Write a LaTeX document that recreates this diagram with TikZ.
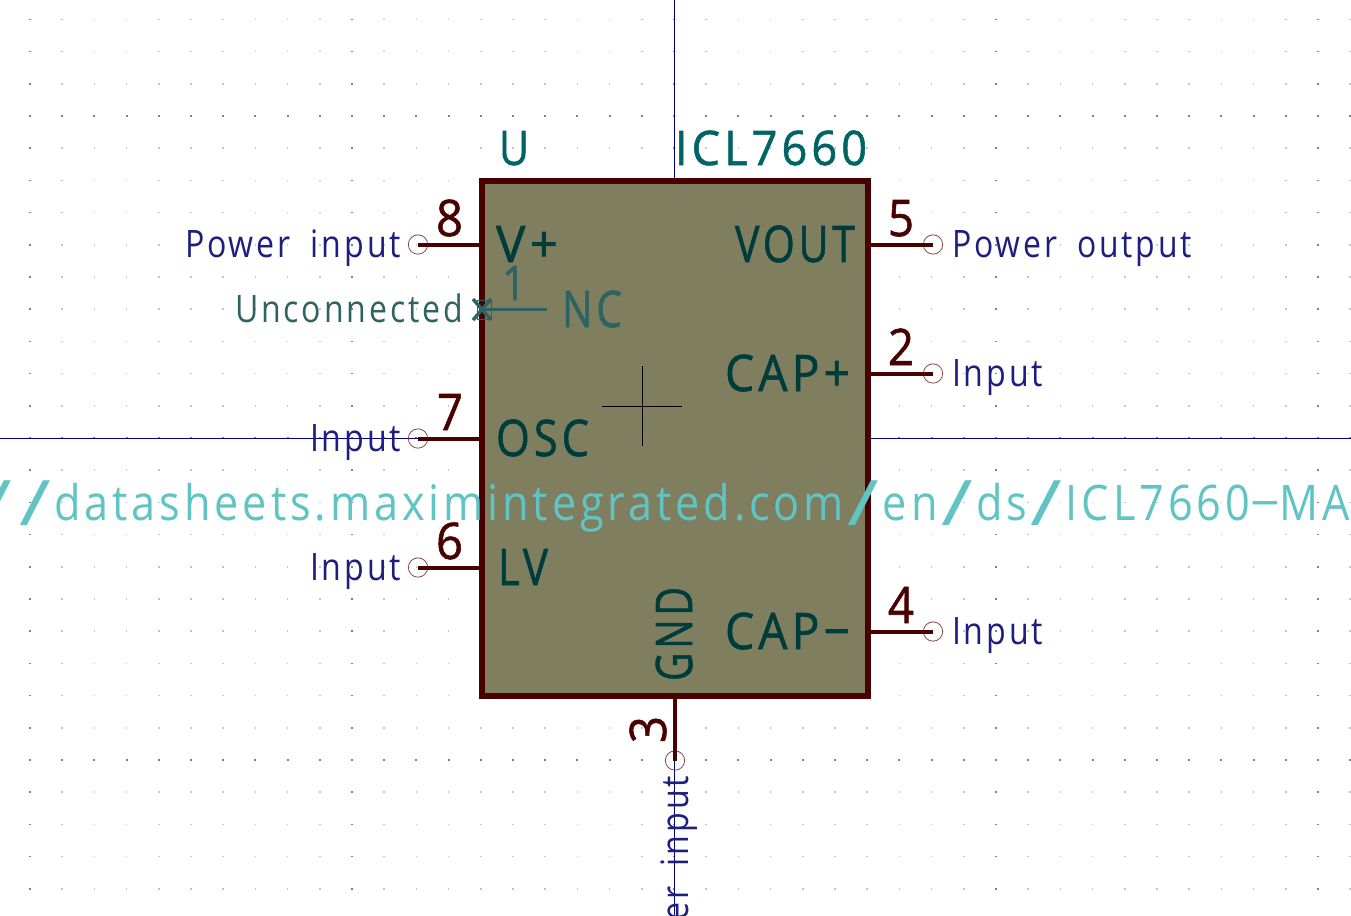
\documentclass[tikz,border=0pt]{standalone}
\usepackage{graphicx}
\usepackage{fontspec}
\setmainfont[LetterSpace=9,WordSpace=1.8]{Open Sans}
\newfontfamily\heavyfont[LetterSpace=9,WordSpace=1.8,FakeBold=1.2]{Open Sans}
\definecolor{gridc}{HTML}{C4C4C4}
\definecolor{gridm}{HTML}{808080}
\definecolor{axisc}{HTML}{00008C}
\definecolor{wallc}{HTML}{480000}
\definecolor{fillc}{HTML}{7F7F5F}
\definecolor{pinc}{HTML}{844A4A}
\definecolor{refc}{HTML}{006464}
\definecolor{namec}{HTML}{003C3C}
\definecolor{labc}{HTML}{1E1E7E}
\definecolor{ncc}{HTML}{2F6262}
\definecolor{urlc}{HTML}{60C4C4}
\newlength{\fitlen}
% #1 cap height px, #2 target width px, #3 text
\newcommand{\fittext}[3]{%
  \pgfmathsetmacro{\fitpt}{#1*1.05}%
  \fontsize{\fitpt pt}{\fitpt pt}\selectfont
  \settowidth{\fitlen}{#3}%
  \pgfmathsetmacro{\fitsx}{#2*0.75/\fitlen}%
  \scalebox{\fitsx}[1]{#3}}
\newcommand{\wideslash}{\kern0.08em\raisebox{-0.12em}{\scalebox{2}[1.28]{/}}\kern0.08em}
\newcommand{\widedash}{\scalebox{1.2}[1]{−}}
\tikzset{
  x=0.75pt,y=-0.75pt,
  txt/.style={inner sep=0,outer sep=0,anchor=base west},
  heavy/.style={txt,font=\heavyfont},
  pinline/.style={draw=wallc,line width=3pt},
  pinend/.style={circle,draw=pinc,line width=0.6pt,minimum size=14.5pt,inner sep=0,outer sep=0},
  bodybox/.style={draw=wallc,fill=fillc,line width=4.2pt,minimum width=289.5pt,minimum height=386.25pt,inner sep=0,outer sep=0},
  axisline/.style={draw=axisc,line width=0.75pt},
  crossline/.style={draw=black,line width=0.6pt},
  nopin/.style={draw=ncc,line width=2.6pt},
}
\begin{document}
\begin{tikzpicture}
\useasboundingbox (0,0) rectangle (1351,915);
\clip (0,0) rectangle (1351,915);
\fill[white] (0,0) rectangle (1351,915);
% grid
\foreach \i in {-20,...,21} \foreach \j in {-13,...,14} {
  \pgfmathsetmacro{\gx}{674+32.2*\i}
  \pgfmathsetmacro{\gy}{438+32.2*\j}
  \pgfmathtruncatemacro{\ismaj}{(mod(\i+100,10)==0)||(mod(\j+100,10)==0)}
  \ifnum\ismaj=1
    \fill[gridm] (\gx-1,\gy-0.8) rectangle (\gx+1,\gy+0.8);
  \else
    \fill[gridc] (\gx-0.8,\gy-0.8) rectangle (\gx+0.8,\gy+0.8);
  \fi
}
% axes
\coordinate (axT) at (674,0);
\coordinate (axB) at (674,915);
\coordinate (axL) at (0,438);
\coordinate (axR) at (1351,438);
\draw[axisline] (axT) -- (axB);
\draw[axisline] (axL) -- (axR);
% body
\node[bodybox] (body) at (675,438.5) {};
% centre cross
\coordinate (cl) at (602,406);
\coordinate (cr) at (682,406);
\coordinate (ct) at (642,366);
\coordinate (cb) at (642,446);
\draw[crossline] (cl) -- (cr);
\draw[crossline] (ct) -- (cb);
% pin ends
\node[pinend] (p8) at (418,244.5) {};
\node[pinend] (p7) at (418,438.5) {};
\node[pinend] (p6) at (418,567.5) {};
\node[pinend] (p5) at (933,244.5) {};
\node[pinend] (p2) at (933,373.5) {};
\node[pinend] (p4) at (933,631.5) {};
\node[pinend] (p3) at (675,760.5) {};
\draw[pinline] (p8.center) -- (p8.center -| body.west);
\draw[pinline] (p7.center) -- (p7.center -| body.west);
\draw[pinline] (p6.center) -- (p6.center -| body.west);
\draw[pinline] (p5.center) -- (p5.center -| body.east);
\draw[pinline] (p2.center) -- (p2.center -| body.east);
\draw[pinline] (p4.center) -- (p4.center -| body.east);
\draw[pinline] (p3.center) -- (p3.center |- body.south);
% NC pin
\coordinate (ncA) at (482,309.5);
\coordinate (ncB) at (547,309.5);
\draw[nopin] (ncA) -- (ncB);
\draw[nopin] (473,299) -- (491,320);
\draw[nopin] (473,320) -- (491,299);
\draw[draw=ncc,line width=0.5pt] (477,300) rectangle (491.5,319.5);
% reference / value
\node[heavy,text=refc] (ref) at (499,165) {\fittext{34}{30}{U}};
\node[heavy,text=refc] (val) at (675,165) {\fittext{34}{192}{ICL7660}};
% pin names
\node[heavy,text=namec] (n8) at (496,262) {\fittext{36}{62}{V+}};
\node[heavy,text=namec] (n5) at (735,262) {\fittext{36}{120}{VOUT}};
\node[heavy,text=namec] (n2) at (725,391) {\fittext{36}{125}{CAP+}};
\node[heavy,text=namec] (n7) at (496,456) {\fittext{36}{93}{OSC}};
\node[heavy,text=namec] (n6) at (498,585) {\fittext{36}{50}{LV}};
\node[heavy,text=namec] (n4) at (725,649) {\fittext{36}{125}{CAP−}};
\node[heavy,text=namec,rotate=90] (n3) at (692,681) {\fittext{36}{94}{GND}};
\node[heavy,text=ncc] (n1) at (562,327) {\fittext{36}{60}{NC}};
% pin numbers
\node[heavy,text=wallc] (d8) at (436,236) {\fittext{36}{27}{8}};
\node[heavy,text=wallc] (d5) at (888,236) {\fittext{36}{26}{5}};
\node[heavy,text=wallc] (d2) at (888,365) {\fittext{36}{26}{2}};
\node[heavy,text=wallc] (d7) at (437,430) {\fittext{36}{26}{7}};
\node[heavy,text=wallc] (d6) at (436,559) {\fittext{36}{27}{6}};
\node[heavy,text=wallc] (d4) at (888,623) {\fittext{36}{26}{4}};
\node[heavy,text=wallc,rotate=90] (d3) at (666,743) {\fittext{36}{27}{3}};
\node[heavy,text=ncc] (d1) at (502,300) {\fittext{34}{24}{1}};
% electrical labels
\node[txt,text=labc] (l8) at (185,257) {\fittext{27}{216}{Power input}};
\node[txt,text=labc] (l7) at (310,451) {\fittext{27}{91}{Input}};
\node[txt,text=labc] (l6) at (310,580) {\fittext{27}{91}{Input}};
\node[txt,text=labc] (l5) at (952,257) {\fittext{27}{240}{Power output}};
\node[txt,text=labc] (l2) at (952,386) {\fittext{27}{91}{Input}};
\node[txt,text=labc] (l4) at (952,644) {\fittext{27}{91}{Input}};
\node[txt,text=labc,rotate=90] (l3) at (688,992) {\fittext{27}{216}{Power input}};
\node[txt,text=ncc] (l1) at (235,322) {\fittext{27}{228}{Unconnected}};
% datasheet URL
\node[txt,text=urlc] (url) at (-23,520) {\fittext{35}{1373}{\wideslash\wideslash datasheets.maximintegrated.com\wideslash en\wideslash ds\wideslash ICL7660\widedash MA}};
\end{tikzpicture}
\end{document}
